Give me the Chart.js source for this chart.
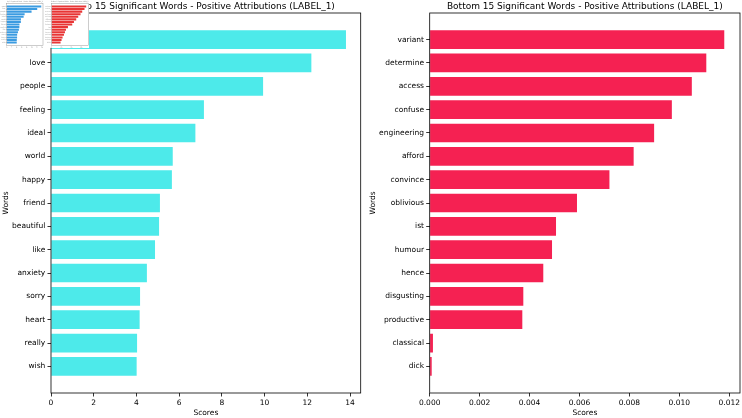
<!DOCTYPE html>
<html><head><meta charset="utf-8">
<script src="https://cdn.jsdelivr.net/npm/chart.js@4/dist/chart.umd.min.js"></script>
<style>
html,body{margin:0;padding:0;background:#fff;}
body{width:742px;height:418px;position:relative;overflow:hidden;}
.box{position:absolute;}
</style></head><body>
<div class="box" style="left:0;top:0;width:371px;height:418px"><canvas id="c1"></canvas></div>
<div class="box" style="left:365px;top:0;width:377px;height:418px"><canvas id="c2"></canvas></div>
<div class="box" style="left:0;top:0;width:89px;height:48px;background:#fff">
  <div class="box" style="left:0;top:0;width:45px;height:48px"><canvas id="t1"></canvas></div>
  <div class="box" style="left:45px;top:0;width:44px;height:48px"><canvas id="t2"></canvas></div>
</div>
<script>
// ---- data ----
const topWords = ["good","love","people","feeling","ideal","world","happy","friend","beautiful","like","anxiety","sorry","heart","really","wish"];
const topScores = [13.81,12.19,9.93,7.16,6.76,5.70,5.66,5.10,5.06,4.87,4.49,4.17,4.15,4.03,4.01];
const topTicks = [0,2,4,6,8,10,12,14];

const bottomWords = ["variant","determine","access","confuse","engineering","afford","convince","oblivious","ist","humour","hence","disgusting","productive","classical","dick"];
const bottomScores = [0.01180,0.01108,0.01050,0.00970,0.00899,0.00817,0.00720,0.00590,0.00506,0.00490,0.00455,0.00375,0.00371,0.00013,0.00008];
const bottomTicks = [0,0.002,0.004,0.006,0.008,0.010,0.012];

const thumbRedScores = [35,33.3,31,29.3,27,25,22.7,21,16.7,14.7,13.7,12.7,11.3,10.3,9.3];
const thumbRedTicks = [0,10,20,30];

const titleTop = "Top 15 Significant Words - Positive Attributions (LABEL_1)";
const titleBottom = "Bottom 15 Significant Words - Positive Attributions (LABEL_1)";

const F = "'DejaVu Sans', sans-serif";

function framePlugin(color, width){
  return { id:'frame', afterDraw(chart){
    const a = chart.chartArea, c = chart.ctx;
    c.save(); c.strokeStyle = color; c.lineWidth = width;
    c.strokeRect(a.left, a.top, a.right - a.left, a.bottom - a.top);
    c.restore();
  }};
}

function makeChart(id, o){
  const gridOpt = { display:true, offset:false, drawOnChartArea:false, drawTicks:true, tickLength:o.tickLen, color:o.axisColor, lineWidth:o.lineW };
  return new Chart(document.getElementById(id), {
    type:'bar',
    data:{ datasets:[{
      data: o.words.map((w,i)=>({x:o.values[i], y:i})),
      backgroundColor:o.color, borderWidth:0, categoryPercentage:0.8, barPercentage:1
    }]},
    options:{
      indexAxis:'y', responsive:true, maintainAspectRatio:false, animation:false,
      layout:{padding:{left:0,right:o.rightPad,top:0,bottom:0}},
      plugins:{
        legend:{display:false}, tooltip:{enabled:false},
        title:{display:true, fullSize:false, text:o.title, color:o.titleColor,
          font:{family:F,size:o.titleSize,weight:'normal',lineHeight:1.2}, padding:o.titlePad}
      },
      scales:{
        x:{ type:'linear', position:'bottom', min:0, max:o.xMax, offset:false,
          afterBuildTicks:s=>{ s.ticks = o.xTicks.map(v=>({value:v})); },
          afterFit:s=>{ s.height = o.xHeight; },
          grid:gridOpt, border:{display:false},
          ticks:{ color:o.textColor, font:{family:F,size:o.tickSize,lineHeight:1.2}, padding:o.xTickPad, maxRotation:0, autoSkip:false, callback:v=>o.fmt(v) },
          title:{ display:o.showAxisTitles, text:'Scores', color:o.textColor, font:{family:F,size:o.tickSize,lineHeight:1.2}, padding:{top:0,bottom:o.xTitlePad} }
        },
        y:{ type:'linear', reverse:true, min:-1.14, max:15.14, offset:false,
          afterBuildTicks:s=>{ s.ticks = o.words.map((w,i)=>({value:i})); },
          afterFit:s=>{ s.width = o.yWidth; },
          grid:gridOpt, border:{display:false},
          ticks:{ color:o.textColor, font:{family:F,size:o.tickSize,lineHeight:1.2}, padding:o.yTickPad, autoSkip:false, callback:v=>o.words[v] },
          title:{ display:o.showAxisTitles, text:'Words', color:o.textColor, font:{family:F,size:o.tickSize,lineHeight:1.2}, padding:{top:o.yTitlePad,bottom:0} }
        }
      }
    },
    plugins:[framePlugin(o.axisColor, o.lineW)]
  });
}

const mainBase = { tickLen:3.5, axisColor:'#000', lineW:0.8, titleColor:'#000', titleSize:9,
  titlePad:{top:1.1,bottom:1.1}, textColor:'#000', tickSize:7.5, xHeight:25, xTickPad:1.7,
  xTitlePad:0.5, yTickPad:2.2, showAxisTitles:true };

makeChart('c1', Object.assign({}, mainBase, {
  words:topWords, values:topScores, xTicks:topTicks, xMax:14.5, color:'#4deaea',
  title:titleTop, rightPad:10.3, yWidth:51, yTitlePad:1.8, fmt:v=>String(v)
}));
makeChart('c2', Object.assign({}, mainBase, {
  words:bottomWords, values:bottomScores, xTicks:bottomTicks, xMax:0.01243, color:'#f52152',
  title:titleBottom, rightPad:2, yWidth:64.7, yTitlePad:4, fmt:v=>v.toFixed(3)
}));

const thumbBase = { tickLen:0.8, axisColor:'#9a9a9a', lineW:0.5, titleColor:'#888', titleSize:1.8,
  titlePad:{top:0.6,bottom:0.8}, textColor:'#888', tickSize:1.6, xHeight:2.5, xTickPad:0.3,
  xTitlePad:0, yTickPad:0.3, showAxisTitles:false, yTitlePad:0 };

makeChart('t1', Object.assign({}, thumbBase, {
  words:topWords, values:topScores, xTicks:topTicks, xMax:14.5, color:'#3b9be1',
  title:titleTop, rightPad:2, yWidth:6.7, fmt:v=>String(v)
}));
makeChart('t2', Object.assign({}, thumbBase, {
  words:bottomWords, values:thumbRedScores, xTicks:thumbRedTicks, xMax:37.5, color:'#e83535',
  title:titleBottom, rightPad:0.3, yWidth:6.3, fmt:v=>String(v)
}));
</script>
</body></html>
